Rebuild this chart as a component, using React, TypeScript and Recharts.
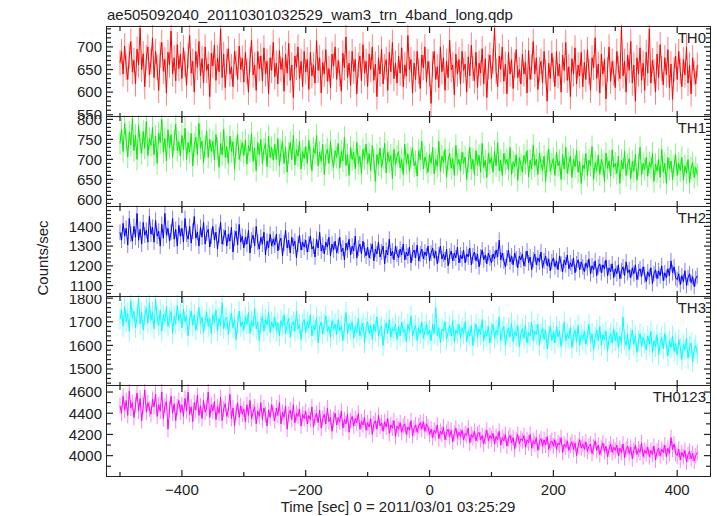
import { ErrorBar, Line, LineChart, XAxis, YAxis } from 'recharts';

const TITLE = 'ae505092040_20110301032529_wam3_trn_4band_long.qdp';
const X_LABEL = 'Time [sec] 0 = 2011/03/01 03:25:29';
const Y_LABEL = 'Counts/sec';

// 2.5 s bins, first bin at -500 s
const T_START = -500;
const T_STEP = 2.5;
const X_DOMAIN: [number, number] = [-521, 453];
const X_MAJOR = [-400, -200, 0, 200, 400];
const X_MINOR = [-500, -300, -100, 100, 300];

const TH0 = [
  665, 690, 640, 702, 655, 628, 680, 712, 645, 670, 618, 695, 660, 742, 650, 685, 612, 676, 700, 638,
  668, 720, 632, 690, 655, 604, 682, 710, 646, 672, 598, 688, 660, 735, 640, 676, 625, 705, 652, 684,
  630, 698, 662, 615, 680, 725, 642, 668, 600, 690, 655, 712, 636, 674, 620, 700, 648, 662, 590, 686,
  658, 704, 626, 676, 645, 740, 632, 684, 610, 668, 696, 640, 656, 612, 690, 664, 628, 702, 650, 675,
  622, 688, 646, 600, 672, 715, 638, 660, 604, 690, 652, 680, 625, 698, 640, 668, 596, 676, 648, 710,
  634, 664, 618, 692, 650, 675, 602, 684, 642, 708, 626, 660, 588, 680, 655, 700, 630, 668, 612, 690,
  645, 672, 606, 688, 636, 660, 620, 714, 648, 676, 598, 665, 640, 694, 624, 652, 610, 684, 658, 700,
  628, 670, 640, 602, 686, 654, 722, 632, 664, 615, 690, 646, 672, 596, 660, 680, 625, 705, 642, 668,
  612, 684, 650, 700, 626, 662, 590, 676, 640, 695, 618, 656, 672, 604, 688, 645, 710, 630, 664, 620,
  680, 642, 698, 612, 660, 636, 725, 650, 672, 598, 664, 628, 690, 646, 608, 682, 654, 700, 622, 668,
  640, 575, 662, 690, 628, 656, 610, 700, 645, 676, 604, 668, 632, 715, 650, 660, 594, 684, 640, 672,
  618, 690, 648, 662, 600, 678, 636, 704, 652, 625, 688, 610, 664, 642, 696, 618, 674, 588, 656, 682,
  630, 668, 742, 646, 612, 680, 650, 700, 624, 662, 596, 688, 640, 672, 608, 660, 694, 632, 650, 618,
  684, 640, 666, 598, 692, 628, 656, 712, 640, 676, 606, 650, 668, 620, 690, 645, 580, 664, 630, 686,
  650, 612, 690, 636, 662, 600, 682, 648, 710, 626, 656, 590, 674, 640, 698, 618, 660, 636, 688, 612,
  666, 628, 694, 645, 604, 676, 654, 720, 630, 662, 598, 684, 640, 672, 585, 650, 700, 624, 668, 642,
  610, 690, 652, 630, 745, 636, 668, 600, 682, 648, 712, 620, 660, 580, 676, 640, 698, 626, 664, 604,
  688, 642, 740, 620, 670, 646, 600, 684, 632, 705, 652, 616, 676, 638, 694, 610, 662, 584, 650, 680,
  628, 690, 646, 612, 672, 638, 700, 620, 660, 596, 676, 642, 618, 660,
];
const TH1 = [
  740, 775, 720, 790, 748, 706, 768, 735, 802, 722, 760, 700, 785, 742, 715, 770, 728, 795, 710, 752,
  735, 780, 712, 758, 690, 766, 742, 800, 718, 752, 696, 774, 730, 762, 705, 748, 788, 722, 744, 708,
  760, 725, 778, 700, 742, 718, 765, 684, 738, 755, 712, 790, 728, 746, 692, 732, 770, 705, 750, 720,
  745, 698, 762, 728, 680, 740, 712, 775, 705, 732, 690, 758, 720, 744, 675, 730, 762, 700, 722, 742,
  710, 748, 688, 735, 720, 765, 695, 728, 672, 742, 712, 750, 690, 725, 740, 682, 758, 705, 730, 698,
  738, 700, 752, 684, 722, 745, 690, 730, 668, 716, 742, 700, 760, 686, 724, 708, 745, 676, 720, 702,
  732, 690, 748, 706, 672, 728, 715, 760, 684, 718, 695, 738, 662, 712, 726, 690, 745, 700, 680, 722,
  705, 740, 678, 720, 696, 755, 685, 712, 660, 730, 700, 718, 676, 742, 690, 708, 665, 725, 702, 738,
  690, 715, 672, 735, 700, 645, 712, 688, 728, 680, 702, 740, 666, 718, 694, 710, 652, 725, 686, 708,
  720, 678, 700, 662, 738, 690, 714, 670, 705, 728, 684, 695, 658, 722, 700, 745, 676, 706, 690, 668,
  712, 690, 730, 664, 700, 682, 745, 670, 708, 692, 725, 655, 698, 715, 678, 702, 660, 735, 688, 700,
  672, 718, 690, 706, 650, 694, 730, 676, 700, 662, 722, 686, 710, 668, 740, 680, 698, 655, 716, 690,
  705, 668, 720, 684, 742, 672, 698, 660, 715, 690, 700, 675, 730, 662, 694, 682, 712, 648, 704, 686,
  668, 710, 690, 722, 656, 698, 676, 735, 684, 700, 662, 716, 690, 672, 708, 645, 695, 726, 670, 688,
  702, 660, 718, 684, 696, 650, 712, 676, 730, 665, 690, 708, 655, 700, 682, 722, 668, 694, 640, 686,
  676, 715, 660, 698, 685, 732, 650, 692, 672, 710, 662, 700, 688, 645, 716, 678, 696, 658, 724, 680,
  690, 665, 708, 640, 698, 676, 720, 660, 688, 702, 652, 695, 670, 712, 648, 686, 730, 662, 690, 675,
  705, 658, 692, 680, 715, 645, 688, 670, 700, 655, 725, 668, 690, 640, 705, 676, 696, 650, 684, 712,
  660, 690, 672, 705, 648, 684, 666, 700, 642, 678, 692, 655, 680, 662,
];
const TH2 = [
  1370, 1330, 1415, 1350, 1390, 1305, 1440, 1360, 1325, 1400, 1345, 1465, 1330, 1385, 1310, 1420, 1355, 1380, 1320, 1450,
  1360, 1395, 1320, 1430, 1350, 1375, 1300, 1410, 1340, 1465, 1355, 1390, 1325, 1370, 1440, 1335, 1385, 1300, 1405, 1350,
  1390, 1320, 1440, 1360, 1335, 1400, 1315, 1375, 1450, 1340, 1370, 1300, 1395, 1345, 1420, 1310, 1365, 1385, 1295, 1350,
  1400, 1330, 1370, 1285, 1355, 1420, 1310, 1345, 1380, 1300, 1360, 1325, 1395, 1270, 1340, 1375, 1305, 1410, 1320, 1350,
  1290, 1345, 1310, 1380, 1265, 1330, 1355, 1300, 1400, 1320, 1285, 1345, 1310, 1370, 1255, 1325, 1290, 1360, 1300, 1335,
  1305, 1360, 1275, 1320, 1340, 1250, 1315, 1380, 1290, 1330, 1265, 1345, 1300, 1325, 1240, 1310, 1355, 1280, 1320, 1295,
  1330, 1270, 1310, 1350, 1285, 1300, 1245, 1335, 1290, 1370, 1275, 1305, 1260, 1320, 1295, 1345, 1250, 1310, 1280, 1325,
  1265, 1300, 1345, 1270, 1290, 1230, 1315, 1280, 1335, 1255, 1300, 1275, 1350, 1240, 1290, 1310, 1260, 1325, 1280, 1250,
  1295, 1240, 1275, 1310, 1225, 1285, 1260, 1320, 1245, 1270, 1300, 1210, 1280, 1255, 1335, 1250, 1275, 1230, 1300, 1260,
  1240, 1285, 1255, 1310, 1230, 1270, 1250, 1295, 1215, 1265, 1280, 1240, 1305, 1225, 1260, 1285, 1235, 1270, 1250, 1300,
  1225, 1265, 1290, 1240, 1275, 1210, 1255, 1300, 1235, 1260, 1230, 1285, 1200, 1250, 1275, 1225, 1265, 1240, 1295, 1215,
  1255, 1235, 1280, 1215, 1260, 1245, 1290, 1205, 1250, 1270, 1225, 1260, 1195, 1245, 1280, 1230, 1255, 1210, 1265, 1240,
  1215, 1260, 1235, 1280, 1245, 1330, 1230, 1265, 1225, 1195, 1240, 1280, 1220, 1250, 1205, 1265, 1235, 1190, 1250, 1230,
  1260, 1200, 1235, 1275, 1215, 1245, 1180, 1230, 1260, 1205, 1240, 1220, 1270, 1190, 1225, 1250, 1200, 1235, 1175, 1220,
  1240, 1195, 1225, 1180, 1250, 1210, 1170, 1230, 1205, 1255, 1185, 1215, 1195, 1240, 1165, 1210, 1230, 1180, 1220, 1195,
  1170, 1215, 1190, 1235, 1160, 1200, 1180, 1225, 1150, 1195, 1210, 1165, 1205, 1185, 1230, 1150, 1190, 1170, 1210, 1140,
  1185, 1160, 1205, 1135, 1175, 1195, 1150, 1220, 1165, 1180, 1140, 1190, 1160, 1205, 1130, 1170, 1185, 1145, 1195, 1155,
  1120, 1170, 1145, 1190, 1110, 1160, 1180, 1135, 1175, 1150, 1200, 1125, 1165, 1140, 1185, 1150, 1225, 1165, 1195, 1140,
  1130, 1160, 1105, 1150, 1120, 1175, 1100, 1140, 1160, 1115, 1145, 1095, 1135, 1150,
];
const TH3 = [
  1710, 1750, 1680, 1765, 1700, 1735, 1660, 1790, 1715, 1745, 1675, 1720, 1800, 1690, 1740, 1665, 1725, 1760, 1695, 1780,
  1705, 1740, 1670, 1795, 1720, 1685, 1750, 1660, 1730, 1700, 1765, 1680, 1715, 1745, 1650, 1725, 1690, 1770, 1705, 1735,
  1675, 1755, 1700, 1725, 1640, 1710, 1745, 1685, 1730, 1665, 1700, 1760, 1690, 1720, 1655, 1705, 1740, 1680, 1715, 1650,
  1730, 1695, 1750, 1660, 1715, 1685, 1780, 1670, 1705, 1720, 1645, 1700, 1735, 1675, 1710, 1625, 1690, 1745, 1680, 1700,
  1665, 1720, 1690, 1740, 1650, 1705, 1680, 1755, 1670, 1700, 1620, 1695, 1725, 1660, 1710, 1685, 1740, 1655, 1700, 1675,
  1720, 1660, 1695, 1640, 1705, 1680, 1730, 1650, 1690, 1715, 1635, 1685, 1700, 1660, 1745, 1670, 1690, 1625, 1695, 1710,
  1655, 1700, 1675, 1730, 1640, 1685, 1665, 1720, 1610, 1680, 1700, 1650, 1690, 1725, 1660, 1680, 1635, 1705, 1670, 1690,
  1645, 1710, 1660, 1685, 1620, 1675, 1740, 1650, 1690, 1665, 1700, 1630, 1680, 1655, 1715, 1640, 1670, 1695, 1610, 1675,
  1700, 1650, 1685, 1625, 1690, 1660, 1720, 1640, 1670, 1680, 1600, 1665, 1695, 1650, 1710, 1635, 1675, 1660, 1690, 1625,
  1680, 1640, 1700, 1655, 1670, 1615, 1690, 1660, 1725, 1640, 1665, 1685, 1620, 1675, 1650, 1700, 1630, 1660, 1690, 1645,
  1665, 1620, 1690, 1650, 1760, 1640, 1675, 1610, 1670, 1660, 1700, 1625, 1655, 1685, 1640, 1705, 1615, 1665, 1650, 1690,
  1630, 1675, 1650, 1700, 1615, 1660, 1640, 1685, 1600, 1655, 1690, 1635, 1670, 1645, 1710, 1620, 1660, 1640, 1680, 1610,
  1655, 1690, 1630, 1665, 1645, 1720, 1620, 1660, 1680, 1600, 1650, 1675, 1635, 1695, 1615, 1660, 1640, 1685, 1595, 1650,
  1670, 1630, 1685, 1610, 1655, 1640, 1700, 1620, 1660, 1645, 1690, 1600, 1650, 1675, 1625, 1665, 1585, 1640, 1680, 1620,
  1655, 1610, 1680, 1635, 1660, 1595, 1645, 1700, 1620, 1650, 1630, 1675, 1590, 1640, 1665, 1615, 1685, 1600, 1645, 1625,
  1660, 1605, 1640, 1690, 1615, 1650, 1580, 1635, 1665, 1620, 1680, 1600, 1645, 1625, 1660, 1575, 1630, 1650, 1610, 1670,
  1620, 1655, 1590, 1640, 1610, 1720, 1625, 1600, 1650, 1580, 1630, 1665, 1605, 1640, 1570, 1620, 1650, 1595, 1635, 1610,
  1580, 1640, 1605, 1660, 1570, 1620, 1595, 1645, 1560, 1610, 1635, 1585, 1650, 1600, 1555, 1620, 1590, 1640, 1575, 1610,
  1560, 1625, 1590, 1540, 1605, 1580, 1630, 1545, 1595, 1610, 1530, 1585, 1600, 1565,
];
const TH0123 = [
  4470, 4400, 4560, 4430, 4520, 4380, 4610, 4450, 4500, 4360, 4480, 4590, 4420, 4540, 4330, 4470, 4620, 4410, 4500, 4440,
  4390, 4530, 4460, 4580, 4370, 4480, 4420, 4600, 4350, 4470, 4510, 4250, 4440, 4560, 4400, 4490, 4330, 4460, 4520, 4410,
  4480, 4370, 4540, 4420, 4600, 4390, 4460, 4320, 4500, 4430, 4570, 4380, 4470, 4350, 4520, 4410, 4450, 4600, 4360, 4480,
  4420, 4510, 4340, 4460, 4400, 4550, 4330, 4440, 4490, 4370, 4430, 4580, 4350, 4450, 4280, 4410, 4500, 4360, 4470, 4390,
  4440, 4320, 4480, 4380, 4520, 4350, 4410, 4460, 4300, 4420, 4370, 4500, 4340, 4450, 4390, 4280, 4430, 4360, 4480, 4400,
  4330, 4450, 4380, 4500, 4300, 4410, 4360, 4470, 4250, 4390, 4430, 4340, 4480, 4310, 4400, 4370, 4440, 4280, 4390, 4350,
  4420, 4300, 4380, 4340, 4460, 4270, 4360, 4400, 4310, 4430, 4260, 4350, 4390, 4300, 4450, 4320, 4360, 4230, 4340, 4400,
  4290, 4360, 4320, 4420, 4260, 4340, 4300, 4390, 4220, 4330, 4370, 4280, 4350, 4310, 4400, 4250, 4320, 4290, 4360, 4240,
  4310, 4270, 4350, 4200, 4300, 4330, 4250, 4380, 4280, 4310, 4230, 4320, 4270, 4350, 4210, 4290, 4260, 4330, 4180, 4280,
  4250, 4310, 4220, 4280, 4300, 4200, 4270, 4240, 4330, 4190, 4260, 4290, 4220, 4280, 4310, 4250, 4320, 4230, 4300, 4270,
  4200, 4250, 4170, 4240, 4210, 4290, 4160, 4230, 4200, 4270, 4150, 4220, 4250, 4180, 4240, 4130, 4210, 4260, 4170, 4220,
  4180, 4240, 4150, 4210, 4190, 4260, 4120, 4200, 4170, 4230, 4140, 4200, 4220, 4150, 4190, 4110, 4180, 4240, 4140, 4190,
  4160, 4210, 4110, 4180, 4150, 4230, 4100, 4170, 4140, 4200, 4090, 4160, 4190, 4120, 4170, 4060, 4150, 4200, 4110, 4160,
  4140, 4190, 4080, 4150, 4120, 4200, 4070, 4140, 4110, 4170, 4050, 4130, 4160, 4090, 4150, 4100, 4180, 4060, 4120, 4140,
  4090, 4150, 4060, 4120, 4100, 4170, 4030, 4110, 4080, 4140, 4050, 4100, 4130, 4060, 4120, 4000, 4090, 4150, 4070, 4110,
  4060, 4130, 4040, 4090, 4110, 4020, 4080, 4140, 4050, 4100, 4010, 4070, 4120, 4040, 4090, 3990, 4060, 4110, 4030, 4080,
  4050, 4100, 4000, 4070, 4030, 4110, 3980, 4060, 4090, 4020, 4080, 3970, 4050, 4100, 4010, 4060, 4030, 4120, 3990, 4050,
  4020, 4080, 3990, 4050, 4010, 4090, 3960, 4040, 4070, 4000, 4060, 4030, 4100, 3990, 4070, 4020, 4170, 4060, 4110, 4020,
  4000, 4060, 3960, 4030, 3990, 4050, 3940, 4010, 4040, 3970, 4020, 3950, 4000, 4030,
];

// typical 1-sigma errors per band
const TH0_ERR = 28;
const TH1_ERR = 28;
const TH2_ERR = 40;
const TH3_ERR = 44;
const TH0123_ERR = 75;

const FONT = '"Liberation Sans", Arial, Helvetica, sans-serif';
const INK = '#222';
const W = 717;
const LEFT = 107;
const RIGHT = 710;
const PANEL_TOPS = [27, 117, 207, 297, 386];
const PLOT_BOTTOM = 476;

function toRows(vals: number[], err: number) {
  return vals.map((v, i) => ({ t: T_START + i * T_STEP, v, err }));
}

function fmt(v: number) {
  return v < 0 ? '\u2212' + Math.abs(v) : String(v);
}

const tickText = { fontSize: 15, fill: INK, fontFamily: FONT };
const tickStroke = { stroke: INK, strokeWidth: 1.2 };
const blank = () => '';

type PanelProps = {
  name: string;
  vals: number[];
  err: number;
  color: string;
  domain: [number, number];
  major: number;
  minor: number;
  top: number;
  height: number;
  bottom?: boolean;
};

function Panel({ name, vals, err, color, domain, major, minor, top, height, bottom }: PanelProps) {
  const data = toRows(vals, err);
  const majorTicks: number[] = [];
  const minorTicks: number[] = [];
  for (let v = Math.ceil(domain[0] / minor) * minor; v <= domain[1]; v += minor) {
    if (v % major === 0) majorTicks.push(v);
    else minorTicks.push(v);
  }
  // minor-tick axes (id ...0) sit on the plot edge, labelled axes (id ...1) one pixel out
  const topH = 2;
  const botH = bottom ? 40 : 2;
  const common = {
    type: 'number' as const,
    allowDataOverflow: true,
    interval: 0 as const,
    axisLine: false,
    tickLine: tickStroke,
  };
  return (
    <div style={{ position: 'absolute', left: 0, top: top - topH }}>
      <LineChart width={W} height={height + topH + botH} data={data} margin={{ top: 0, right: 0, bottom: 0, left: 0 }}>
        <XAxis xAxisId="xb1" dataKey="t" {...common} domain={X_DOMAIN} ticks={X_MAJOR} height={botH - 1} tickSize={-7} tickMargin={14}
          tick={tickText} tickFormatter={bottom ? fmt : blank} />
        <XAxis xAxisId="xt1" orientation="top" dataKey="t" {...common} domain={X_DOMAIN} ticks={X_MAJOR} height={1} tickSize={-7} tickFormatter={blank} />
        <YAxis yAxisId="yl1" {...common} domain={domain} ticks={majorTicks} width={LEFT - 1} tickSize={-7} tickMargin={11} tick={tickText} />
        <YAxis yAxisId="yr1" orientation="right" {...common} domain={domain} ticks={majorTicks} width={W - RIGHT - 1} tickSize={-7} tickFormatter={blank} />
        <XAxis xAxisId="xb0" dataKey="t" {...common} domain={X_DOMAIN} ticks={X_MINOR} height={1} tickSize={-4} tickFormatter={blank} />
        <XAxis xAxisId="xt0" orientation="top" dataKey="t" {...common} domain={X_DOMAIN} ticks={X_MINOR} height={1} tickSize={-4} tickFormatter={blank} />
        <YAxis yAxisId="yl0" {...common} domain={domain} ticks={minorTicks} width={1} tickSize={-4} tickFormatter={blank} />
        <YAxis yAxisId="yr0" orientation="right" {...common} domain={domain} ticks={minorTicks} width={1} tickSize={-4} tickFormatter={blank} />
        <Line
          xAxisId="xb1"
          yAxisId="yl1"
          type="linear"
          dataKey="v"
          stroke={color}
          strokeWidth={1}
          dot={false}
          isAnimationActive={false}
        >
          <ErrorBar
            dataKey="err"
            direction="y"
            width={0}
            stroke={color}
            strokeOpacity={0.5}
            strokeWidth={1}
            isAnimationActive={false}
          />
        </Line>
      </LineChart>
      <div
        style={{
          position: 'absolute',
          right: W - 706,
          top: topH + 2,
          fontFamily: FONT,
          fontSize: 15,
          color: INK,
          lineHeight: '18px',
        }}
      >
        {name}
      </div>
    </div>
  );
}

export default function App() {
  return (
    <div style={{ position: 'absolute', left: 0, top: 0, width: W, height: 516, background: '#fff', fontFamily: FONT }}>
      <div style={{ position: 'absolute', left: LEFT, top: 6, fontSize: 15, color: INK, lineHeight: '18px' }}>{TITLE}</div>
      <Panel name="TH0" vals={TH0} err={TH0_ERR} color="#ff0000" domain={[545, 744]} major={50} minor={10} top={27} height={90} />
      <Panel name="TH1" vals={TH1} err={TH1_ERR} color="#00ee00" domain={[581, 806]} major={50} minor={10} top={117} height={90} />
      <Panel name="TH2" vals={TH2} err={TH2_ERR} color="#0000ff" domain={[1042, 1498]} major={100} minor={20} top={207} height={90} />
      <Panel name="TH3" vals={TH3} err={TH3_ERR} color="#00ffff" domain={[1428, 1805]} major={100} minor={20} top={297} height={89} />
      <Panel name="TH0123" vals={TH0123} err={TH0123_ERR} color="#ff00ff" domain={[3808, 4657]} major={200} minor={100} top={386} height={90} bottom />
      {/* plot frame and panel separators */}
      <div
        style={{
          position: 'absolute',
          left: LEFT - 1,
          top: PANEL_TOPS[0] - 1,
          width: RIGHT - LEFT,
          height: PLOT_BOTTOM - PANEL_TOPS[0],
          border: `1.5px solid ${INK}`,
          pointerEvents: 'none',
        }}
      />
      {PANEL_TOPS.slice(1).map((y) => (
        <div
          key={y}
          style={{ position: 'absolute', left: LEFT, top: y - 1, width: RIGHT - LEFT, height: 0, borderTop: `1.5px solid ${INK}` }}
        />
      ))}
      <div
        style={{
          position: 'absolute',
          left: 42,
          top: 258,
          transform: 'translate(-50%, -50%) rotate(-90deg)',
          fontSize: 15,
          color: INK,
          whiteSpace: 'nowrap',
        }}
      >
        {Y_LABEL}
      </div>
      <div
        style={{
          position: 'absolute',
          left: 200,
          width: 396,
          top: 498,
          textAlign: 'center',
          fontSize: 15,
          color: INK,
          lineHeight: '18px',
        }}
      >
        {X_LABEL}
      </div>
    </div>
  );
}
